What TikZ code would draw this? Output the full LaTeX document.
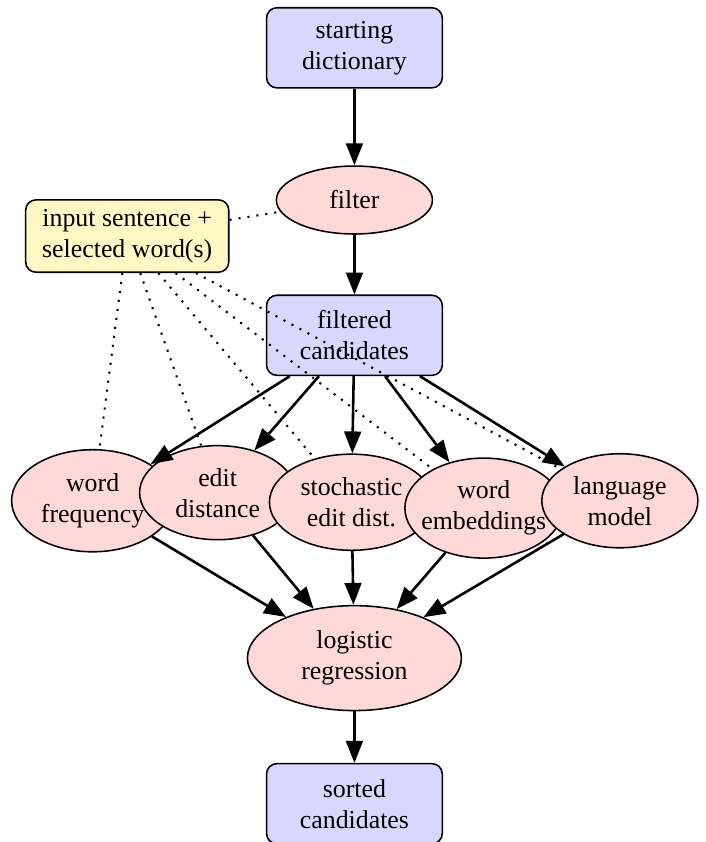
\documentclass[tikz,border=0pt]{standalone}
\usepackage{fontspec}
\setmainfont{Liberation Serif}
\usepackage{tikz}
\usetikzlibrary{shapes.geometric,arrows.meta}

\definecolor{boxblue}{RGB}{216,216,255}
\definecolor{blobpink}{RGB}{255,216,216}
\definecolor{noteyellow}{RGB}{255,248,196}

\begin{document}
\begin{tikzpicture}[
    box/.style={draw,line width=0.6pt,fill=boxblue,rounded corners=4pt,align=center,
      inner sep=1pt,minimum width=68pt,minimum height=31pt},
    blob/.style={draw,line width=0.6pt,fill=blobpink,ellipse,align=center,
      inner xsep=-4pt,inner ysep=0pt},
    note/.style={draw,line width=0.6pt,fill=noteyellow,rounded corners=4pt,align=center,
      inner sep=1pt,minimum width=78.6pt,minimum height=28pt},
    dots/.style={line width=0.8pt,dash pattern=on 0.8pt off 2.7pt},
    >={Triangle[length=8.5pt,width=6.5pt]},
    every edge/.style={draw,line width=1pt}]
          \useasboundingbox (0,0) rectangle (9.588,-11.451);
          \node[box] (start) at (4.82,-0.65) {starting\\dictionary};
          \node[blob,minimum width=60.4pt,minimum height=26.3pt] (filter) at (4.82,-2.72) {filter};
          \node[note] (input) at (1.73,-3.21) {input sentence +\\selected word(s)};
          \node[box] (filtered) at (4.82,-4.56) {filtered\\candidates};
          \node[blob,minimum width=62.7pt,minimum height=39.5pt] (freq) at (1.26,-6.81) {word\\frequency};
          \node[blob,minimum width=60.4pt,minimum height=36.4pt] (edit) at (2.96,-6.70) {edit\\distance};
          \node[blob,minimum width=63.5pt,minimum height=37.2pt] (stoch) at (4.78,-6.83) {stochastic\\edit dist.};
          \node[blob,minimum width=61.1pt,minimum height=38.7pt] (embed) at (6.58,-6.91) {word\\embeddings};
          \node[blob,minimum width=60.4pt,minimum height=36.4pt] (lm) at (8.43,-6.81) {language\\model};
          \node[blob,minimum width=82.8pt,minimum height=40.6pt] (logreg) at (4.82,-8.95) {logistic\\regression};
          \node[box] (sorted) at (4.82,-10.93) {sorted\\candidates};
          \draw[->] (start) edge (filter);
          \draw[->] (filter) edge (filtered);
          \draw[->] (filtered) edge (freq) (filtered) edge (edit) (filtered) edge (stoch)
            (filtered) edge (embed) (filtered) edge (lm);
          \draw[->] (freq) edge (logreg) (edit) edge (logreg) (stoch) edge (logreg)
            (embed) edge (logreg) (lm) edge (logreg);
          \draw[->] (logreg) edge (sorted);
          \draw[dots] (input) -- (filter);
          \draw[dots] (input) -- (freq);
          \draw[dots] (input) -- (edit);
          \draw[dots] (input) -- (stoch);
          \draw[dots] (input) -- (embed);
          \draw[dots] (input) -- (lm);
        \end{tikzpicture}
\end{document}
